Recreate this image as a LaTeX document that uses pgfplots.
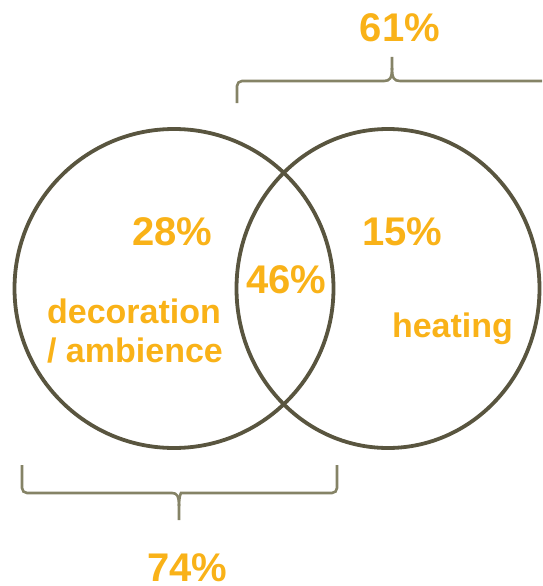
\documentclass[border=0pt]{standalone}
\usepackage{pgfplots}
\pgfplotsset{compat=1.18}
\usepackage{fontspec}
\setmainfont{Liberation Sans}
\definecolor{ring}{HTML}{59553F}
\definecolor{brace}{HTML}{858366}
\definecolor{amber}{HTML}{F9B218}
\tikzset{
  share/.style={text=amber, inner sep=0pt, anchor=base, font=\fontsize{40}{40}\selectfont\bfseries},
  setlabel/.style={text=amber, inner sep=0pt, anchor=base, font=\fontsize{34}{34}\selectfont\bfseries},
}
\begin{document}
\begin{tikzpicture}
\begin{axis}[
    scale only axis, width=542pt, height=586pt,
    xmin=0, xmax=542, ymin=0, ymax=586, y dir=reverse,
    hide axis, clip=true
]
  % sets
  \draw[ring, line width=3.8pt] (axis cs:174,288.5) circle [radius=159.5];
  \draw[ring, line width=3.8pt] (axis cs:388,288.5) ellipse [x radius=151.5, y radius=159.5];

  % braces
  \draw[brace, line width=2.6pt, rounded corners=5pt]
    (axis cs:237,103) -- (axis cs:237,81) -- (axis cs:384,81);
  \draw[brace, line width=2.6pt]
    (axis cs:384,81) .. controls (axis cs:390,81) and (axis cs:392,78) .. (axis cs:392,68) -- (axis cs:392,57);
  \draw[brace, line width=2.6pt]
    (axis cs:392,68) .. controls (axis cs:392,78) and (axis cs:394,81) .. (axis cs:400,81) -- (axis cs:560,81);

  \draw[brace, line width=2.6pt, rounded corners=5pt]
    (axis cs:22,465) -- (axis cs:22,493) -- (axis cs:172,493);
  \draw[brace, line width=2.6pt]
    (axis cs:172,493) .. controls (axis cs:177,493) and (axis cs:179,496) .. (axis cs:179,506) -- (axis cs:179,520);
  \draw[brace, line width=2.6pt, rounded corners=5pt]
    (axis cs:179,506) .. controls (axis cs:179,496) and (axis cs:181,493) .. (axis cs:186,493) -- (axis cs:337,493) -- (axis cs:337,465);

  % shares
  \node[share] at (axis cs:400,42) {61\%};
  \node[share] at (axis cs:187.5,581) {74\%};
  \node[share] at (axis cs:172.5,245) {28\%};
  \node[share] at (axis cs:402.5,245) {15\%};
  \node[share] at (axis cs:286.5,293) {46\%};

  % set names
  \node[setlabel] at (axis cs:134,323) {decoration};
  \node[setlabel] at (axis cs:135,362) {/ ambience};
  \node[setlabel] at (axis cs:452.5,337) {heating};

  \coordinate (sw) at (axis cs:0,586);
  \coordinate (ne) at (axis cs:542,0);
\end{axis}
\pgfresetboundingbox
\useasboundingbox (sw) rectangle (ne);
\end{tikzpicture}
\end{document}
